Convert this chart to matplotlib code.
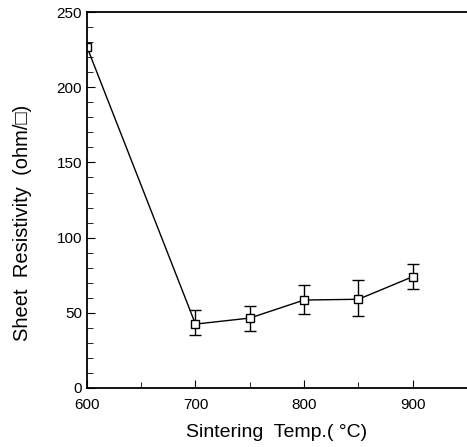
import matplotlib.pyplot as plt
import matplotlib.transforms as mtransforms
from matplotlib.ticker import MultipleLocator

plt.rcParams['font.family'] = ['Liberation Sans', 'DejaVu Sans']

# 烧结温度与方阻
temp = [600, 700, 750, 800, 850, 900]
res = [227, 42.5, 46.5, 58.5, 59, 74]
# 600 没有误差棒
err_lo = [7.5, 8.5, 9.5, 11, 8]
err_hi = [9.5, 8, 10, 13, 8.5]

fig = plt.figure(figsize=(4.67, 4.47), dpi=100)
ax = fig.add_axes([0.186, 0.132, 0.814, 0.841])

ax.errorbar(temp[1:], res[1:], yerr=[err_lo, err_hi], fmt='none',
            ecolor='black', capsize=4.5, elinewidth=1, capthick=1)
ax.plot(temp, res, color='black', lw=1, marker='s', mfc='white',
        mec='black', ms=6, mew=1)

ax.set_xlim(600, 950)
ax.set_ylim(0, 250)
ax.xaxis.set_major_locator(MultipleLocator(100))
ax.xaxis.set_minor_locator(MultipleLocator(50))
ax.yaxis.set_major_locator(MultipleLocator(50))
ax.yaxis.set_minor_locator(MultipleLocator(10))
ax.tick_params(which='both', direction='in', labelsize=11)
ax.tick_params(axis='x', pad=7)
ax.tick_params(which='major', length=6)
ax.tick_params(which='minor', length=4)
ax.spines['right'].set_visible(False)
for s in ['left', 'bottom', 'top']:
    ax.spines[s].set_linewidth(1.3)

fig.canvas.draw()
# 把 y 轴的 "0" 往上挪一点, 免得跟 600 重叠
lab0 = ax.get_yticklabels()[0]
lab0.set_transform(lab0.get_transform() +
                   mtransforms.ScaledTranslation(0, 5 / 72, fig.dpi_scale_trans))

ax.set_xlabel('Sintering  Temp.( \u00b0C)', fontsize=14, labelpad=9)
ax.set_ylabel('Sheet  Resistivity  (ohm/\u25a1)', fontsize=14.5)
ax.yaxis.set_label_coords(-0.145, 0.44)

fig.savefig('out.png', dpi=100)
